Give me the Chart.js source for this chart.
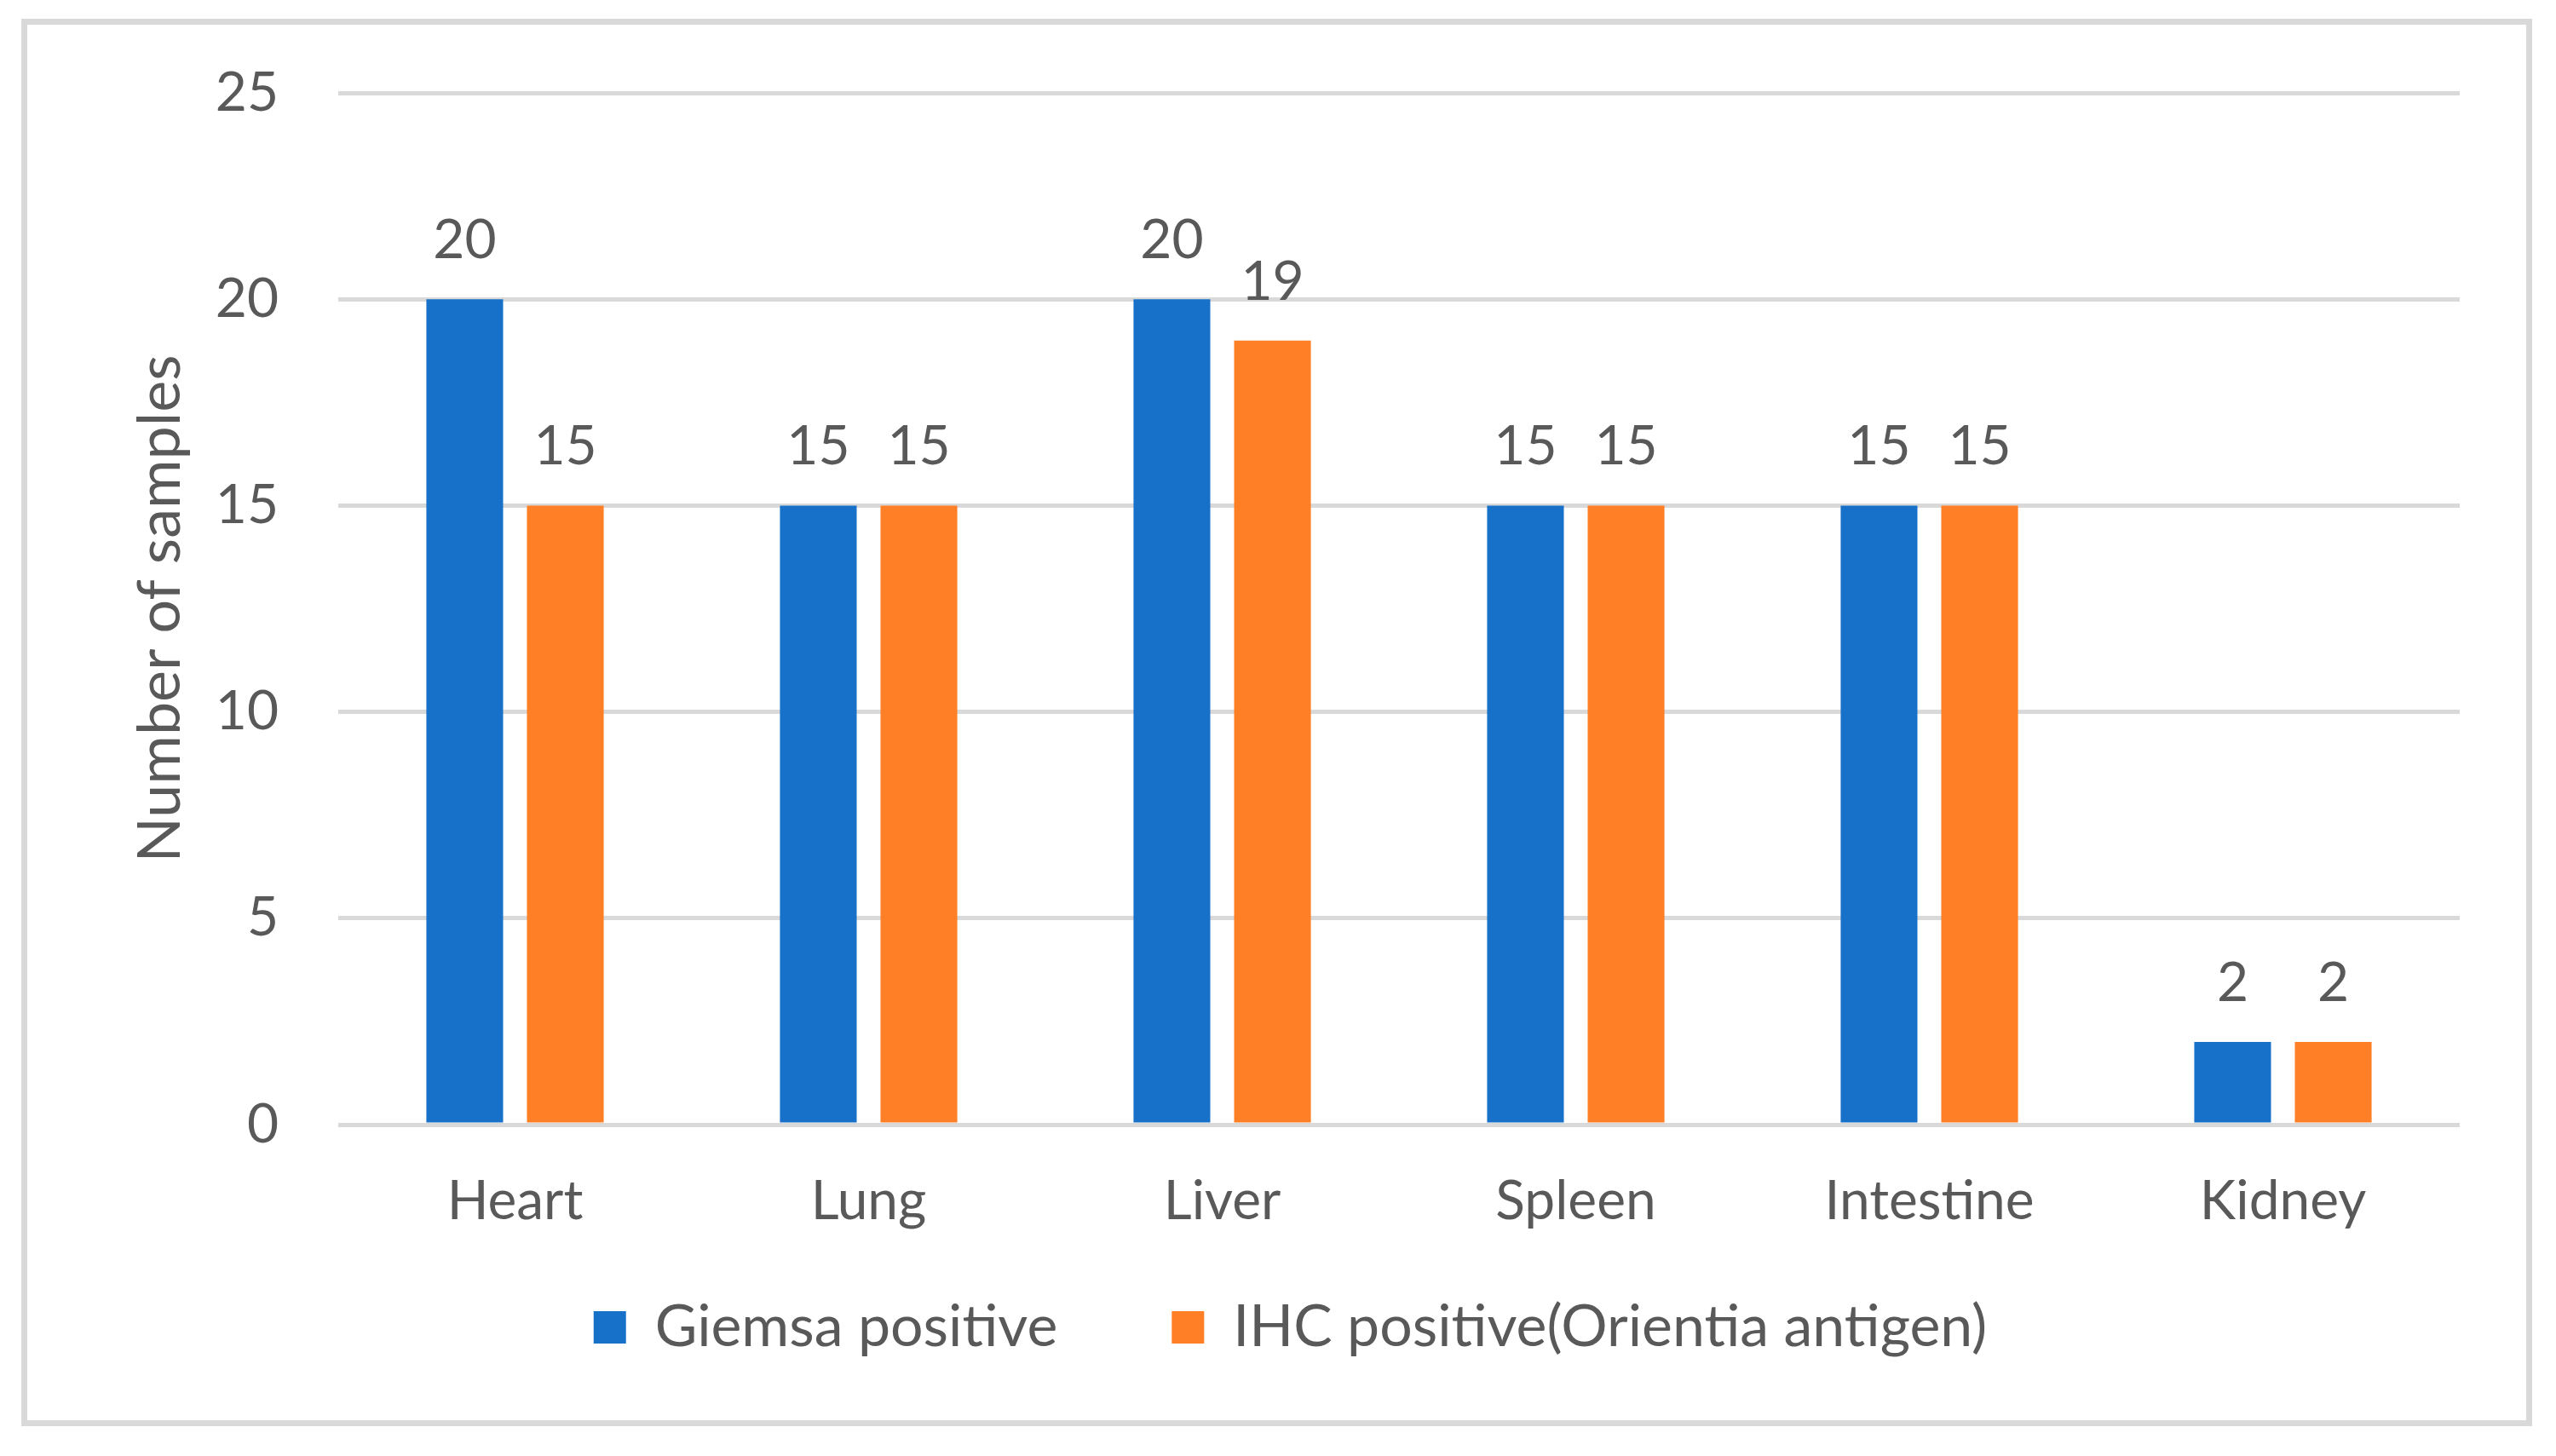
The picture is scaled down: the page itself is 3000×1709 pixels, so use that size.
<!DOCTYPE html>
<html>
<head>
<meta charset="utf-8">
<script src="https://cdn.jsdelivr.net/npm/chart.js@4"></script>
<style>
  html, body { margin: 0; padding: 0; background: #ffffff; }
  #wrap { position: relative; width: 3000px; height: 1709px; }
  #frame { position: absolute; left: 25px; top: 22px; width: 2933px; height: 1638px; border: 7px solid #d9d9d9; box-sizing: content-box; pointer-events: none; }
  #c { position: absolute; left: 0; top: 0; }
</style>
</head>
<body>
<div id="wrap">
  <canvas id="c" width="3000" height="1709"></canvas>
  <div id="frame"></div>
</div>
<script>
const categories = ["Heart", "Lung", "Liver", "Spleen", "Intestine", "Kidney"];
const giemsaPositive = [20, 15, 20, 15, 15, 2];
const ihcPositive = [15, 15, 19, 15, 15, 2];
const seriesNames = ["Giemsa positive", "IHC positive(Orientia antigen)"];
const yTicks = [0, 5, 10, 15, 20, 25];
const yTitle = "Number of samples";

const FONT = "Lato, 'Open Sans', 'DejaVu Sans', sans-serif";
const TEXT = "#595959";

const valueLabels = {
  id: "valueLabels",
  afterDatasetsDraw(chart) {
    const ctx = chart.ctx;
    ctx.save();
    ctx.font = "64px " + FONT;
    ctx.fillStyle = TEXT;
    ctx.textAlign = "center";
    ctx.textBaseline = "alphabetic";
    chart.data.datasets.forEach((ds, i) => {
      const meta = chart.getDatasetMeta(i);
      meta.data.forEach((el, j) => {
        ctx.fillText(String(ds.data[j]), el.x, el.y - 48);
      });
    });
    ctx.restore();
  }
};

// extend the legend box upward so its row sits closer to the axis labels
const legendShift = {
  id: "legendShift",
  afterLayout(chart) {
    const lg = chart.legend;
    if (!lg) return;
    const dy = -70;
    lg.top += dy;
    lg.height -= dy;
  }
};

new Chart(document.getElementById("c"), {
  type: "bar",
  data: {
    labels: categories,
    datasets: [
      { label: seriesNames[0], data: giemsaPositive, backgroundColor: "#1871c9", categoryPercentage: 0.569, barPercentage: 0.763 },
      { label: seriesNames[1], data: ihcPositive, backgroundColor: "#fe7f25", categoryPercentage: 0.569, barPercentage: 0.763 }
    ]
  },
  options: {
    responsive: false,
    devicePixelRatio: 1,
    animation: false,
    layout: { padding: { left: 142, right: 113, top: 109, bottom: 69 } },
    plugins: {
      legend: {
        position: "bottom",
        maxHeight: 180,
        labels: {
          font: { family: FONT, size: 68 },
          color: TEXT,
          boxWidth: 38,
          boxHeight: 38,
          padding: 134
        }
      },
      tooltip: { enabled: false }
    },
    scales: {
      x: {
        grid: { display: false },
        border: { display: false },
        ticks: { font: { family: FONT, size: 64 }, color: TEXT, padding: 44 },
        afterFit(scale) { scale.height = 140; }
      },
      y: {
        min: 0,
        max: 25,
        afterBuildTicks(scale) { scale.ticks = yTicks.map(v => ({ value: v })); },
        grid: { color: "#d9d9d9", lineWidth: 5, drawTicks: false },
        border: { display: false },
        ticks: { font: { family: FONT, size: 64 }, color: TEXT, padding: 70 },
        title: { display: true, text: yTitle, font: { family: FONT, size: 70 }, color: TEXT, padding: { top: 4, bottom: 4 } },
        afterFit(scale) { scale.width = 397 - 142; }
      }
    }
  },
  plugins: [valueLabels, legendShift]
});
</script>
</body>
</html>
